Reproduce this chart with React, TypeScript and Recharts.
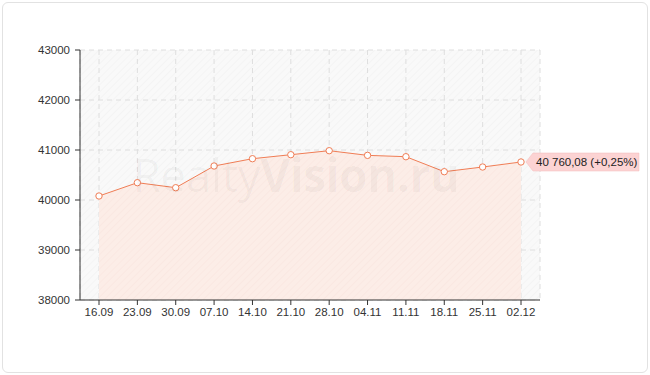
import React from 'react';
import { AreaChart, Area, XAxis, YAxis, CartesianGrid, LabelList } from 'recharts';

const categories = ['16.09', '23.09', '30.09', '07.10', '14.10', '21.10', '28.10', '04.11', '11.11', '18.11', '25.11', '02.12'];
const values = [40080, 40346, 40246, 40680, 40826, 40906, 40986, 40893, 40866, 40566, 40660, 40760.08];
const yTicks = [38000, 39000, 40000, 41000, 42000, 43000];
const lastLabel = '40 760,08 (+0,25%)';
const watermarkLight = 'Realty';
const watermarkBold = 'Vision.ru';

const data = categories.map((c, i) => ({ date: c, value: values[i] }));

const FONT = '"Liberation Sans", Arial, sans-serif';

const LastLabel = (props: any) => {
  const { x, y, index } = props;
  if (index !== values.length - 1) return null;
  const tip = x + 5;
  const left = x + 12;
  const right = x + 118;
  const h = 9;
  const pts = `${tip},${y} ${left},${y - h} ${right},${y - h} ${right},${y + h} ${left},${y + h}`;
  return (
    <g>
      <polygon points={pts} fill="#fcd3d3" stroke="#f5bcbc" strokeWidth={0.5} />
      <text x={left + 3} y={y + 4} fontSize={11.5} fill="#222" fontFamily={FONT}>{lastLabel}</text>
    </g>
  );
};

export default function App() {
  return (
    <div style={{ position: 'absolute', left: 0, top: 0, width: 650, height: 375 }}>
      <div style={{ position: 'absolute', left: 2, top: 2, width: 644, height: 369, border: '1px solid #e2e2e2', borderRadius: 6, boxSizing: 'content-box' }} />
      <div style={{ position: 'absolute', left: 0, top: 0 }}>
        <AreaChart width={650} height={375} data={data} margin={{ top: 50, right: 110, bottom: 45, left: 0 }}>
          <defs>
            <pattern id="bgHatch" width="5" height="5" patternUnits="userSpaceOnUse" patternTransform="rotate(45)">
              <rect width="5" height="5" fill="#f9f9f9" />
              <line x1="0" y1="0" x2="0" y2="5" stroke="#f2f2f2" strokeWidth="1.2" />
            </pattern>
            <pattern id="areaHatch" width="5" height="5" patternUnits="userSpaceOnUse" patternTransform="rotate(45)">
              <rect width="5" height="5" fill="#fcede7" />
              <line x1="0" y1="0" x2="0" y2="5" stroke="#fae6df" strokeWidth="1.2" />
            </pattern>
          </defs>
          <CartesianGrid stroke="#dedede" strokeDasharray="5 4" fill="url(#bgHatch)" />
          <XAxis
            dataKey="date"
            padding={{ left: 19, right: 19 }}
            axisLine={{ stroke: '#333' }}
            tickLine={{ stroke: '#333' }}
            tickSize={5}
            tickMargin={3}
            tick={{ fontSize: 11.5, fill: '#333', fontFamily: FONT }}
            interval={0}
          />
          <YAxis
            domain={[38000, 43000]}
            ticks={yTicks}
            width={80}
            axisLine={{ stroke: '#333' }}
            tickLine={{ stroke: '#333' }}
            tickSize={5}
            tickMargin={5}
            tick={{ fontSize: 11.5, fill: '#333', fontFamily: FONT }}
            allowDataOverflow
          />
          <Area
            type="linear"
            dataKey="value"
            stroke="#f07d55"
            strokeWidth={1}
            fill="url(#areaHatch)"
            fillOpacity={1}
            isAnimationActive={false}
            dot={{ r: 3.2, fill: '#fff', stroke: '#f07d55', strokeWidth: 1 }}
            activeDot={false}
          >
            <LabelList dataKey="value" content={<LastLabel />} />
          </Area>
        </AreaChart>
      </div>
      <div
        style={{
          position: 'absolute', left: 96, top: 146, width: 400, textAlign: 'center',
          fontFamily: '"Open Sans", "DejaVu Sans", sans-serif', fontSize: 46, lineHeight: '56px',
          color: 'rgba(0,0,0,0.035)', pointerEvents: 'none', whiteSpace: 'nowrap', letterSpacing: -0.5,
        }}
      >
        <span style={{ fontWeight: 400 }}>{watermarkLight}</span>
        <span style={{ fontWeight: 700 }}>{watermarkBold}</span>
      </div>
    </div>
  );
}
